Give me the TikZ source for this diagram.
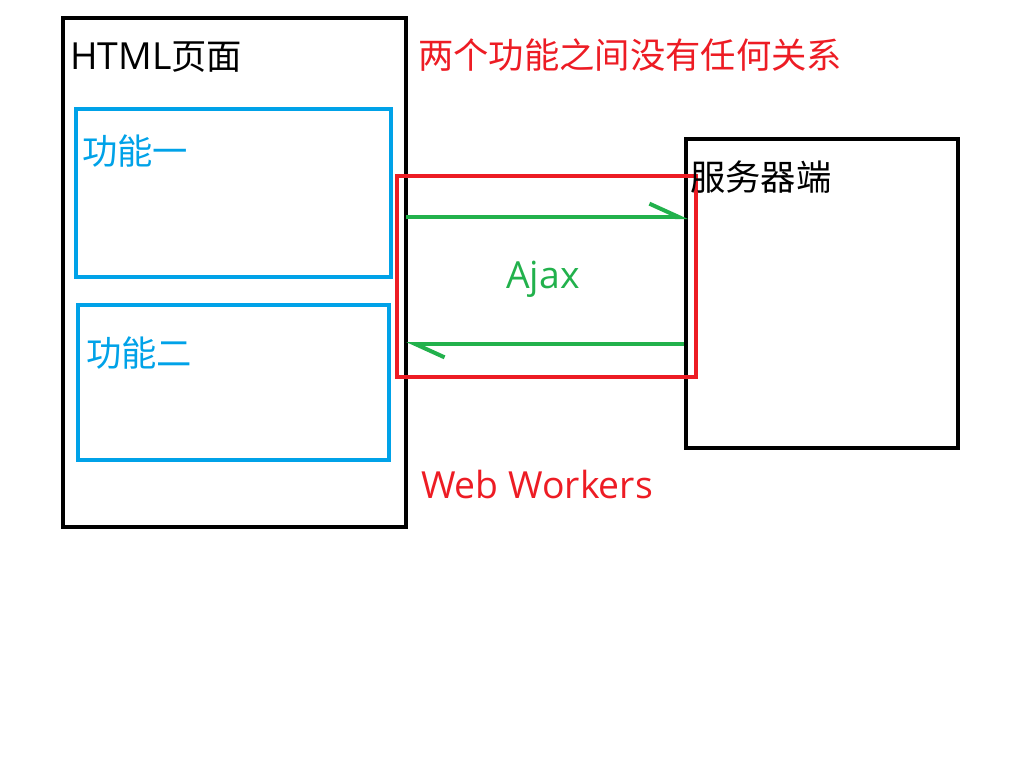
\documentclass[tikz,border=0pt]{standalone}
\usepackage{fontspec}
\setmainfont{Open Sans}
\newfontfamily\cjk{Noto Sans CJK SC}
\usetikzlibrary{arrows.meta,positioning}
\definecolor{paintblue}{RGB}{0,162,232}
\definecolor{paintred}{RGB}{237,28,36}
\definecolor{paintgreen}{RGB}{34,177,76}

\begin{document}
\begin{tikzpicture}
  [x=0.75pt,y=-0.75pt,
    box/.style={draw,line width=3pt,inner sep=0pt,outer sep=0pt,anchor=north west},
    %every label sits at its baseline
    lbl/.style={inner sep=0pt,anchor=base west,font=\fontsize{28}{32}\selectfont},
    cjklbl/.style={lbl,font=\fontsize{26.5}{30}\cjk},
    ajax/.style={paintgreen,line width=3pt,-{Straight Barb[harpoon,length=22pt,width=20pt]}}]
  \useasboundingbox (0,0) rectangle (1024,768);

  % boxes
  \node[box,black,minimum width=257.25pt,minimum height=381.75pt] (html) at (63,18) {};
  \node[box,paintblue,minimum width=236.25pt,minimum height=126pt] (func1) at (76,109) {};
  \node[box,paintblue,minimum width=233.25pt,minimum height=116.25pt] (func2) at (78,305) {};
  \node[box,black,minimum width=204pt,minimum height=231.75pt] (server) at (686,139) {};

  % ajax calls
  \draw[ajax] (html.east |- 0,217) -- ([xshift=1.5pt]server.west |- 0,217);
  \draw[ajax] ([xshift=-1.5pt]server.west |- 0,344) -- (html.east |- 0,344);
  \node[box,paintred,minimum width=224.25pt,minimum height=150.75pt] (workers) at (397,176) {};

  % labels
  \node[lbl] (htmltext) at (70,69) {HTML{\fontsize{26.5}{30}\cjk 页面}};
  \node[cjklbl,paintblue] (func1text) at (82,164) {功能一};
  \node[cjklbl,paintblue] (func2text) at (86,366) {功能二};
  \node[cjklbl] (servertext) at (690,190) {服务器端};
  \node[cjklbl,paintred] (note) at (418,68) {两个功能之间没有任何关系};
  \node[lbl,paintgreen,anchor=base] (ajaxtext) at (543,288) {Ajax};
  \node[lbl,paintred,anchor=base] (workerstext) at (537,498) {Web Workers};
\end{tikzpicture}
\end{document}
